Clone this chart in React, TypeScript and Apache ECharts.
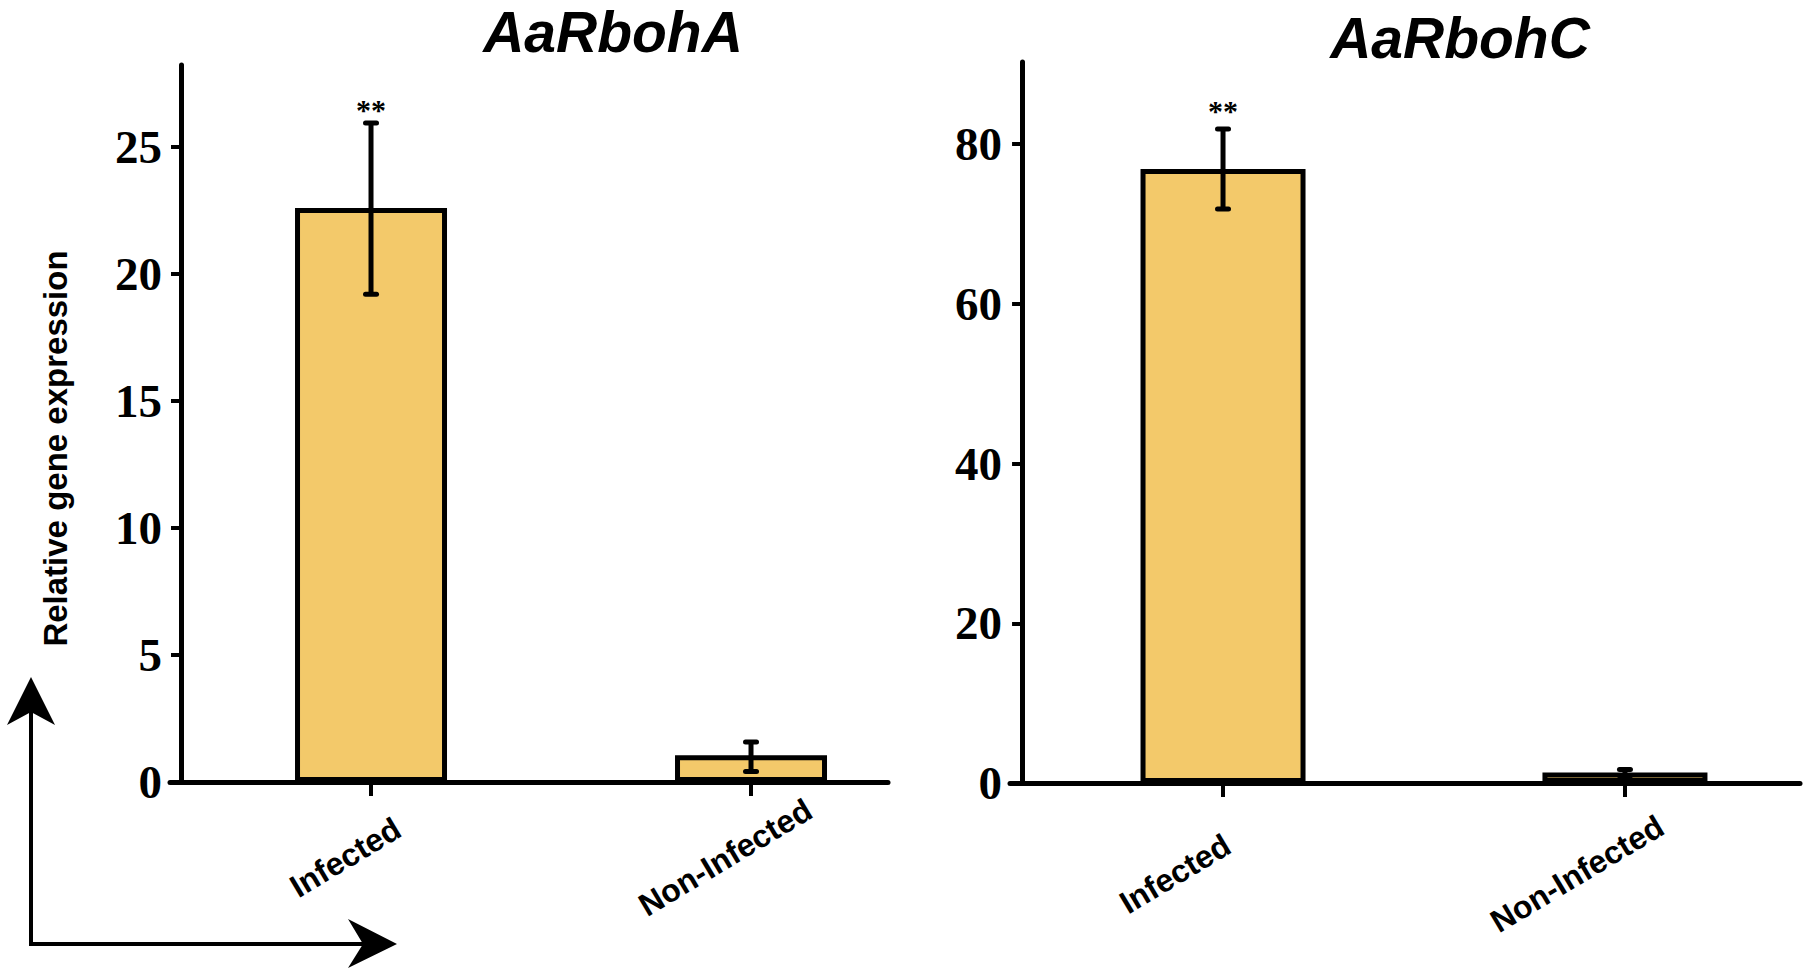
import React, { useEffect, useRef } from "react";
import * as echarts from "echarts";

// ---- data ----
const categories = ["Infected", "Non-Infected"];
const titleA = "AaRbohA";
const titleC = "AaRbohC";
const yAxisName = "Relative gene expression";

const meanA = [22.6, 1.05];
const lowA = [19.2, 0.41];
const highA = [25.95, 1.57];
const sigA = ["**", ""];
const yTicksA = [0, 5, 10, 15, 20, 25];

const meanC = [76.9, 1.3];
const lowC = [71.9, 0.9];
const highC = [81.9, 1.7];
const sigC = ["**", ""];
const yTicksC = [0, 20, 40, 60, 80];

// category positions on the value x axis
const catPos = categories.map((_, i) => 1 + 2 * i);

const BAR_COLOR = "#F3C96A";
const SANS = "'Liberation Sans', Arial, sans-serif";
const SERIF = "'Liberation Serif', 'Times New Roman', serif";

type Panel = {
  grid: any;
  xMin: number;
  xMax: number;
  yMax: number;
  mean: number[];
  low: number[];
  high: number[];
  sig: string[];
  ticks: number[];
  barWidth: number;
  labelPad: number;
  labelMargin: number;
  sigGap: number;
  showName: boolean;
};

const panels: Panel[] = [
  {
    grid: { left: 170, right: 919, top: 65, bottom: 193 },
    xMin: -0.058,
    xMax: 3.721,
    yMax: 28.23,
    mean: meanA,
    low: lowA,
    high: highA,
    sig: sigA,
    ticks: yTicksA,
    barWidth: 152,
    labelPad: 60,
    labelMargin: 60,
    sigGap: 13,
    showName: true,
  },
  {
    grid: { left: 1010, right: 7, top: 62, bottom: 192 },
    xMin: -0.06,
    xMax: 3.871,
    yMax: 90.3,
    mean: meanC,
    low: lowC,
    high: highC,
    sig: sigC,
    ticks: yTicksC,
    barWidth: 165,
    labelPad: 112,
    labelMargin: 62,
    sigGap: 19,
    showName: false,
  },
];

function buildOption() {
  const grid = panels.map((p) => ({ ...p.grid, containLabel: false }));
  const xAxis = panels.map((p, gi) => ({
    type: "value",
    gridIndex: gi,
    min: p.xMin,
    max: p.xMax,
    splitLine: { show: false },
    axisLine: { show: true, lineStyle: { color: "#000", width: 5 } },
    axisTick: {
      show: true,
      customValues: catPos,
      length: 14,
      lineStyle: { color: "#000", width: 4 },
    },
    axisLabel: {
      show: true,
      customValues: catPos,
      formatter: (v: number) => categories[Math.round((v - 1) / 2)] ?? "",
      rotate: 31,
      align: "center",
      verticalAlign: "middle",
      margin: p.labelMargin,
      padding: [0, p.labelPad, 0, 0],
      fontSize: 32,
      fontWeight: "bold",
      fontFamily: SANS,
      color: "#000",
    },
  }));
  const yAxis = panels.map((p, gi) => ({
    type: "value",
    gridIndex: gi,
    min: 0,
    max: p.yMax,
    splitLine: { show: false },
    axisLine: { show: true, onZero: true, lineStyle: { color: "#000", width: 5 } },
    axisTick: {
      show: true,
      customValues: p.ticks,
      length: 10,
      lineStyle: { color: "#000", width: 4 },
    },
    axisLabel: {
      show: true,
      customValues: p.ticks,
      margin: 8,
      fontSize: 47,
      fontWeight: "bold",
      fontFamily: SERIF,
      color: "#000",
    },
    name: p.showName ? yAxisName : "",
    nameLocation: "middle",
    nameRotate: 90,
    nameGap: 98,
    nameTextStyle: {
      fontSize: 33,
      fontWeight: "bold",
      fontFamily: SANS,
      color: "#000",
      padding: [0, 50, 0, 0],
    },
  }));

  const series: any[] = [];
  panels.forEach((p, gi) => {
    series.push({
      type: "bar",
      xAxisIndex: gi,
      yAxisIndex: gi,
      barWidth: p.barWidth,
      data: categories.map((_, i) => [catPos[i], p.mean[i]]),
      itemStyle: { color: BAR_COLOR, borderColor: "#000", borderWidth: 5 },
      z: 2,
    });
    series.push({
      type: "custom",
      xAxisIndex: gi,
      yAxisIndex: gi,
      z: 4,
      data: categories.map((_, i) => [catPos[i], p.low[i], p.high[i]]),
      renderItem: (params: any, api: any) => {
        const x = api.value(0);
        const lo = api.coord([x, api.value(1)]);
        const hi = api.coord([x, api.value(2)]);
        const cx = hi[0];
        const half = 5.5;
        const lineStyle = { stroke: "#000", lineWidth: 5 };
        const text = p.sig[params.dataIndex] || "";
        return {
          type: "group",
          children: [
            { type: "line", shape: { x1: cx, y1: lo[1], x2: cx, y2: hi[1] }, style: { ...lineStyle, lineCap: "butt" } },
            { type: "line", shape: { x1: cx - half, y1: hi[1], x2: cx + half, y2: hi[1] }, style: { ...lineStyle, lineCap: "round" } },
            { type: "line", shape: { x1: cx - half, y1: lo[1], x2: cx + half, y2: lo[1] }, style: { ...lineStyle, lineCap: "round" } },
            {
              type: "text",
              x: cx,
              y: hi[1] - p.sigGap,
              style: {
                text,
                fill: "#000",
                fontSize: 30,
                fontWeight: "bold",
                fontFamily: SERIF,
                align: "center",
                verticalAlign: "middle",
              },
            },
          ],
        };
      },
    });
  });

  const arrowStyle = { stroke: "#000", lineWidth: 4 };
  const graphic = [
    {
      type: "text",
      x: 613,
      y: 3,
      style: { text: titleA, fill: "#000", fontSize: 57, fontWeight: "bold", fontStyle: "italic", fontFamily: SANS, align: "center", verticalAlign: "top" },
    },
    {
      type: "text",
      x: 1460,
      y: 9,
      style: { text: titleC, fill: "#000", fontSize: 57, fontWeight: "bold", fontStyle: "italic", fontFamily: SANS, align: "center", verticalAlign: "top" },
    },
    {
      type: "polyline",
      shape: { points: [[31, 705], [31, 944], [370, 944]] },
      style: { ...arrowStyle, fill: null, lineJoin: "miter" },
    },
    {
      type: "polygon",
      shape: { points: [[31, 677], [7, 725], [31, 712], [55, 725]] },
      style: { fill: "#000" },
    },
    {
      type: "polygon",
      shape: { points: [[397, 944], [348, 919], [363, 944], [348, 968]] },
      style: { fill: "#000" },
    },
  ];

  return {
    animation: false,
    backgroundColor: "#fff",
    grid,
    xAxis,
    yAxis,
    series,
    graphic,
  };
}

export default function App() {
  const ref = useRef<HTMLDivElement>(null);
  useEffect(() => {
    document.body.style.margin = "0";
    if (!ref.current) return;
    const chart = echarts.init(ref.current, undefined, { renderer: "svg" });
    chart.setOption(buildOption() as any);
    return () => chart.dispose();
  }, []);
  return <div ref={ref} style={{ width: 1807, height: 975 }} />;
}
